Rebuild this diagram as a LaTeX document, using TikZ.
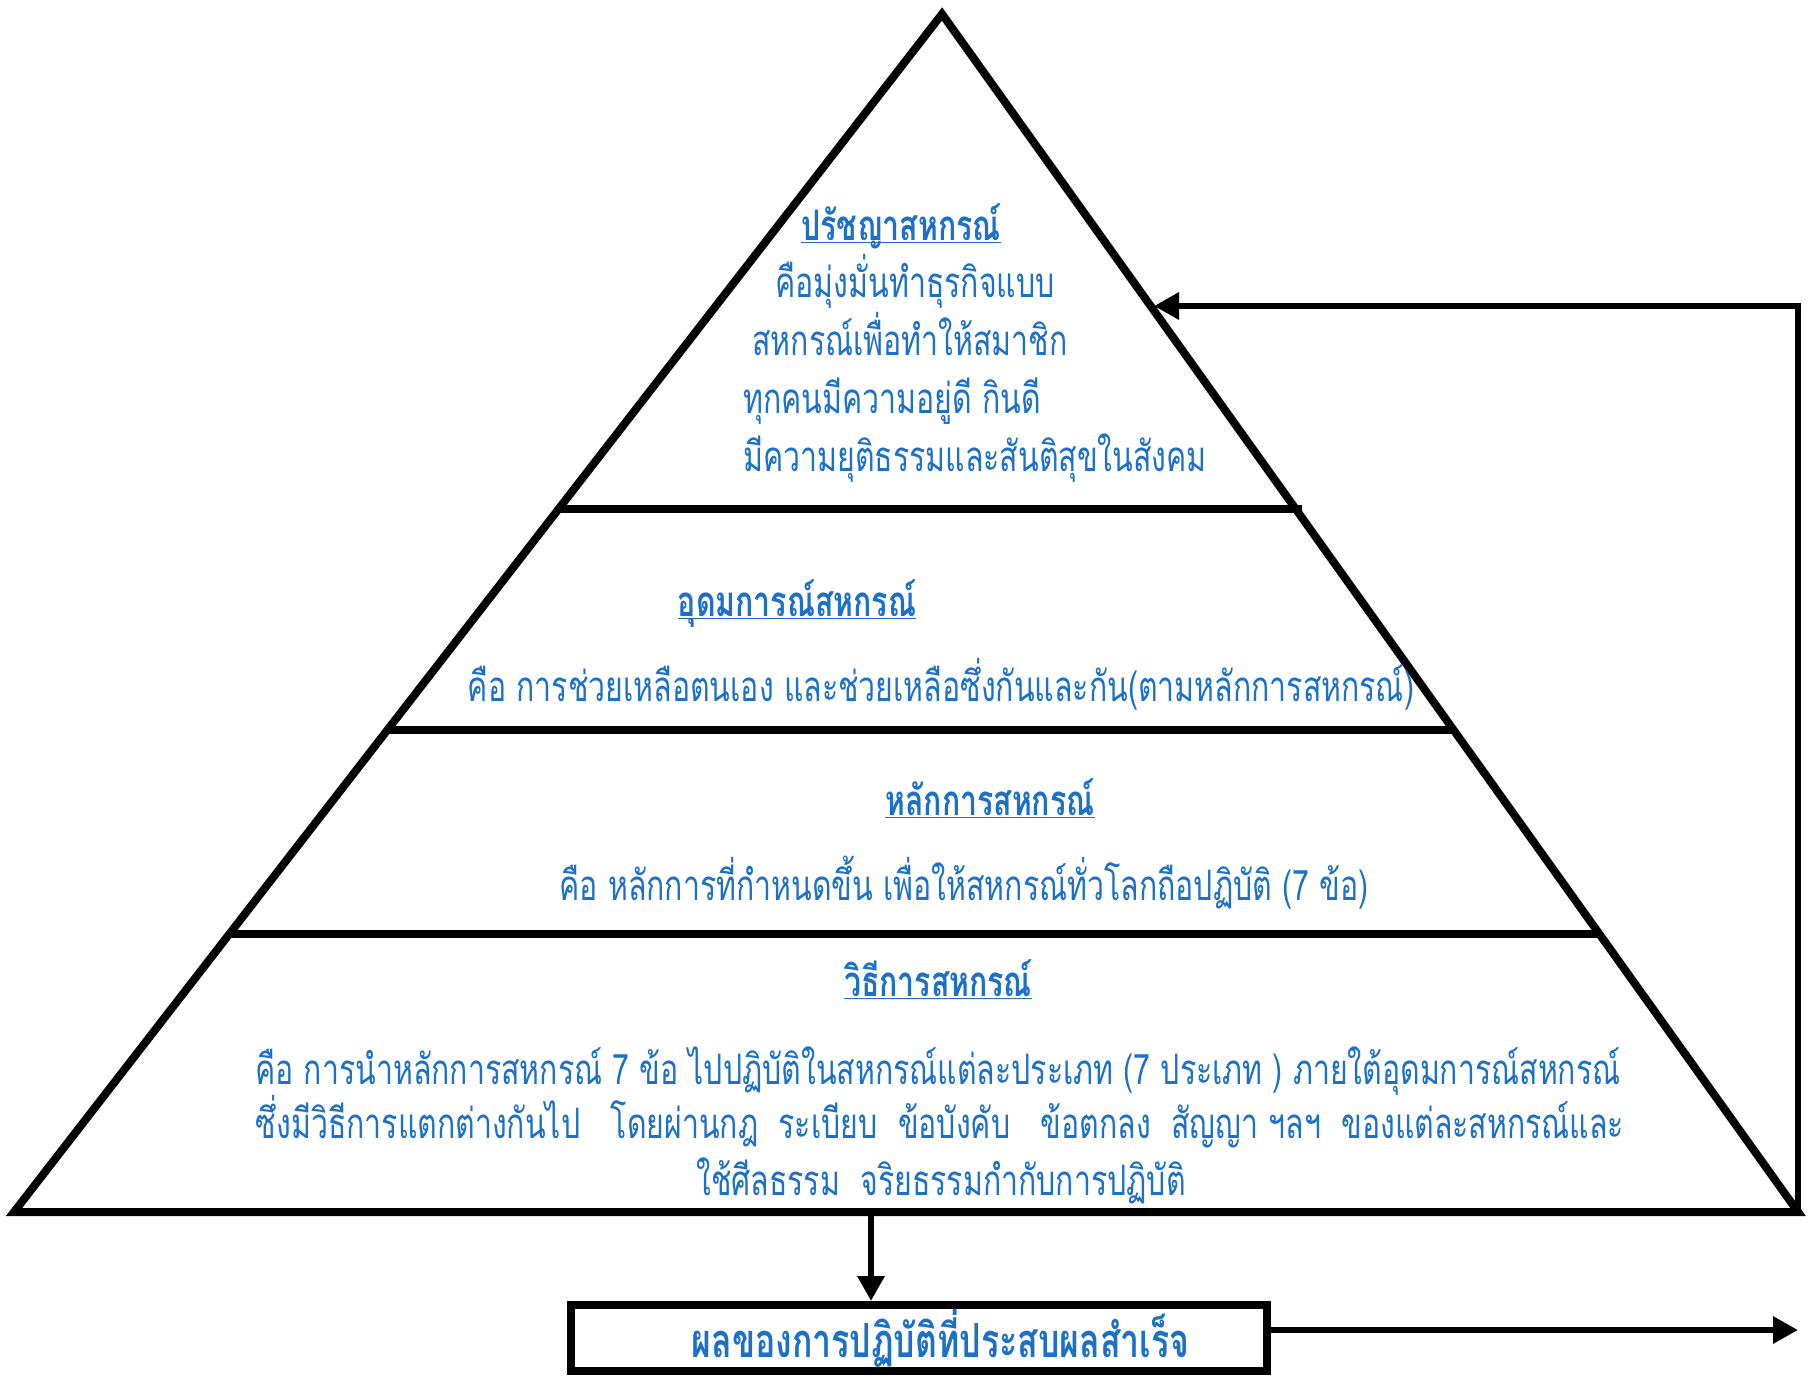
\documentclass[tikz,border=0pt]{standalone}
\usepackage{fontspec}
\usetikzlibrary{arrows.meta}
\newfontfamily\thaifont[Script=Thai,FakeStretch=0.72]{Loma}
\definecolor{txtblue}{RGB}{28,112,200}
\newcommand{\ulthai}[1]{\underline{\smash{#1}}}
\begin{document}
\begin{tikzpicture}[x=0.5pt,y=-0.5pt,
  tri/.style={line width=4pt,line join=miter},
  conn/.style={line width=3.4pt,-{Triangle[length=12.5pt,width=13pt]}},
  plain/.style={line width=3.4pt},
  lbl/.style={inner sep=0pt,anchor=base,text=txtblue,font=\thaifont\fontsize{21}{25}\selectfont},
  ttl/.style={inner sep=0pt,anchor=base,text=txtblue,font=\thaifont\bfseries\fontsize{21}{25}\selectfont},
  resbox/.style={draw,line width=4pt,minimum width=348pt,minimum height=33pt,inner sep=0pt,
    text height=21pt,text depth=1.5pt,text=txtblue,font=\thaifont\bfseries\fontsize{23.5}{28}\selectfont}]
\useasboundingbox (0,0) rectangle (1813,1376);
% pyramid
\coordinate (apex) at (942,14);
\coordinate (bl) at (14,1212);
\coordinate (br) at (1798,1212);
\draw[tri] (apex) -- (br) -- (bl) -- cycle;
\coordinate (l1a) at (559,509); \coordinate (l1b) at (1302,509);
\coordinate (l2a) at (387,730); \coordinate (l2b) at (1454,730);
\coordinate (l3a) at (229,934); \coordinate (l3b) at (1599,934);
\draw[tri] (l1a) -- (l1b);
\draw[tri] (l2a) -- (l2b);
\draw[tri] (l3a) -- (l3b);
% texts
\node[ttl] (t1) at (901,240) {\ulthai{ปรัชญาสหกรณ์}};
\node[lbl,anchor=base west] (t1a) at (775,297) {คือมุ่งมั่นทำธุรกิจแบบ};
\node[lbl,anchor=base west] (t1b) at (752,355) {สหกรณ์เพื่อทำให้สมาชิก};
\node[lbl,anchor=base west] (t1c) at (743,413) {ทุกคนมีความอยู่ดี กินดี};
\node[lbl,anchor=base west] (t1d) at (743,471) {มีความยุติธรรมและสันติสุขในสังคม};
\node[ttl] (t2) at (797,616) {\ulthai{อุดมการณ์สหกรณ์}};
\node[lbl] (t2a) at (941,701) {คือ การช่วยเหลือตนเอง และช่วยเหลือซึ่งกันและกัน(ตามหลักการสหกรณ์)};
\node[ttl] (t3) at (990,815) {\ulthai{หลักการสหกรณ์}};
\node[lbl] (t3a) at (964,900) {คือ หลักการที่กำหนดขึ้น เพื่อให้สหกรณ์ทั่วโลกถือปฏิบัติ (7 ข้อ)};
\node[ttl] (t4) at (938,996) {\ulthai{วิธีการสหกรณ์}};
\node[lbl] (t4a) at (938,1084) {คือ การนำหลักการสหกรณ์ 7 ข้อ ไปปฏิบัติในสหกรณ์แต่ละประเภท (7 ประเภท ) ภายใต้อุดมการณ์สหกรณ์};
\node[lbl] (t4b) at (940,1138) {ซึ่งมีวิธีการแตกต่างกันไป \ \ โดยผ่านกฎ \ ระเบียบ \ ข้อบังคับ \ \ ข้อตกลง \ สัญญา ฯลฯ \ ของแต่ละสหกรณ์และ};
\node[lbl] (t4c) at (941,1195) {ใช้ศีลธรรม \ จริยธรรมกำกับการปฏิบัติ};
% result box
\node[resbox] (res) at (918.5,1338) {\hspace*{22pt}ผลของการปฏิบัติที่ประสบผลสำเร็จ};
% connectors
\coordinate (down) at (871,1212);
\draw[conn] (down) -- (down |- res.north);
\coordinate (rc) at (1798,1330);
\draw[conn] (res.east |- rc) -- (rc);
\coordinate (top) at (1798,306);
\coordinate (tip) at (1154,306);
\draw[plain] (br) -- (top);
\draw[conn] ([xshift=1.7pt]top) -- (tip);
\end{tikzpicture}
\end{document}
